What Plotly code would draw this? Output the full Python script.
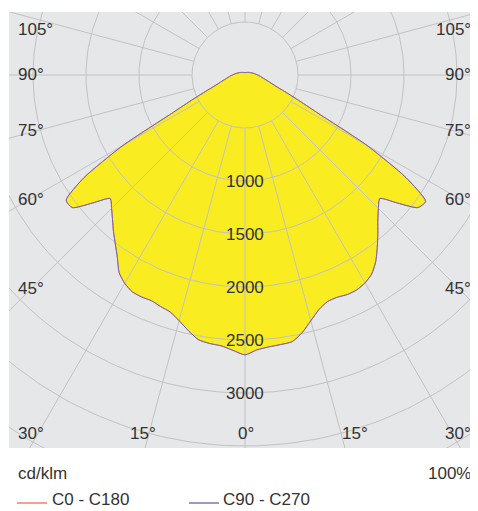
import numpy as np
import plotly.graph_objects as go

# ---------------- data ----------------
gamma = [0, 2.5, 5, 7.5, 10, 12.5, 15, 17.5, 20, 22.5, 25, 27.5, 30, 32.5, 35, 37.5,
         40, 42.5, 45, 47.5, 50, 52.5, 55, 57.5, 60, 62.5, 65, 67.5, 70, 75, 80, 85,
         90, 100, 110, 120, 135, 150, 165, 180]

# C90 - C270 plane (cd/klm): right half = C90, left half = C270
i_c90 = [2640, 2595, 2575, 2565, 2555, 2490, 2400, 2320, 2275, 2270, 2285, 2285, 2265, 2225, 2150, 2050,
         1950, 1855, 1780, 1725, 1880, 2055, 2080, 1800, 1330, 760, 540, 400, 310, 225, 175, 145,
         120, 85, 62, 48, 35, 28, 24, 22]
i_c270 = [2640, 2600, 2565, 2555, 2535, 2470, 2400, 2345, 2325, 2305, 2310, 2305, 2270, 2210, 2100, 2010,
          1930, 1850, 1780, 1725, 1880, 2055, 2060, 1800, 1330, 760, 540, 400, 310, 225, 175, 145,
          120, 85, 62, 48, 35, 28, 24, 22]
# C0 - C180 plane (hidden beneath the C90 - C270 curve)
i_c0 = list(i_c90)
i_c180 = list(i_c270)

ring_values = [500, 1000, 1500, 2000, 2500, 3000, 3500, 4000]
ring_labels = ["1000", "1500", "2000", "2500", "3000"]
spoke_angles = list(range(0, 360, 15))
left_angle_labels = ["105°", "90°", "75°", "60°", "45°", "30°"]
bottom_angle_labels = ["15°", "0°", "15°"]
right_angle_labels = ["105°", "90°", "75°", "60°", "45°", "30°"]
unit_text = "cd/klm"
ratio_text = "100%"
series_names = ["C0 - C180", "C90 - C270"]

# ---------------- helpers ----------------
def polar_curve(g, right, left):
    g = np.radians(np.asarray(g, float))
    right = np.asarray(right, float)
    left = np.asarray(left, float)
    xr = right * np.sin(g)
    yr = -right * np.cos(g)
    xl = -left * np.sin(g)
    yl = -left * np.cos(g)
    x = np.concatenate([xr[::-1], xl[1:]])
    y = np.concatenate([yr[::-1], yl[1:]])
    return x, y

FONT = "Liberation Sans, Arial, sans-serif"
TXT = "#333333"
GRID = "#c2c2c2"
BG = "#e6e7e9"
YELLOW = "#f9ec21"
PURPLE = "#6d66aa"
SALMON = "#f4806a"
LEG_PURPLE = "#7b74bb"

OFF = 8                    # page body margin
W, H = 478 - OFF, 511 - OFF
# reference pixel geometry
REF_L, REF_R, REF_T, REF_B = 9, 473, 12, 448
ML, MT = REF_L - OFF, REF_T - OFF
MR = W - (REF_R - OFF)
MB = H - (REF_B - OFF)
CX, CY = 245, 75          # reference pixel position of the pole
S = 0.106                 # px per cd/klm
x_range = [-(CX - REF_L) / S, (REF_R - CX) / S]
y_range = [-(REF_B - CY) / S, (CY - REF_T) / S]

fig = go.Figure()

# yellow fill
xf, yf = polar_curve(gamma, i_c90, i_c270)
fig.add_trace(go.Scatter(x=xf, y=yf, mode="lines", fill="toself", fillcolor=YELLOW,
                         line=dict(width=0, shape="spline", smoothing=0.6),
                         hoverinfo="skip", showlegend=False))

# grid: rings
t = np.linspace(0, 2 * np.pi, 361)
for r in ring_values:
    fig.add_trace(go.Scatter(x=r * np.cos(t), y=r * np.sin(t), mode="lines",
                             line=dict(color=GRID, width=1), hoverinfo="skip", showlegend=False))
# grid: spokes
for a in spoke_angles:
    th = np.radians(a)
    r0, r1 = ring_values[0], 6000
    fig.add_trace(go.Scatter(x=[r0 * np.sin(th), r1 * np.sin(th)],
                             y=[-r0 * np.cos(th), -r1 * np.cos(th)], mode="lines",
                             line=dict(color=GRID, width=1), hoverinfo="skip", showlegend=False))

# series curves
x0, y0 = polar_curve(gamma, i_c0, i_c180)
fig.add_trace(go.Scatter(x=x0, y=y0, mode="lines", name=series_names[0],
                         line=dict(color=SALMON, width=1, shape="spline", smoothing=0.6)))
x9, y9 = polar_curve(gamma, i_c90, i_c270)
fig.add_trace(go.Scatter(x=x9, y=y9, mode="lines", name=series_names[1],
                         line=dict(color=PURPLE, width=1, shape="spline", smoothing=0.6)))

# ring labels
for lab in ring_labels:
    fig.add_annotation(x=0, y=-float(lab), xref="x", yref="y", text=lab, showarrow=False,
                       font=dict(family=FONT, size=17, color=TXT), xanchor="center", yanchor="middle")

def px(X):
    return (X - REF_L) / (REF_R - REF_L)

def py(Y):
    return (REF_B - Y) / (REF_B - REF_T)

def label(text, X, Y, anchor, yanchor="middle"):
    fig.add_annotation(x=px(X), y=py(Y), xref="paper", yref="paper", text=text, showarrow=False,
                       font=dict(family=FONT, size=17, color=TXT), xanchor=anchor, yanchor=yanchor,
                       borderpad=0)

left_y = [30, 75, 131, 199, 288, 433]
for lab, yy in zip(left_angle_labels, left_y):
    label(lab, 17, yy, "left")
for lab, yy in zip(right_angle_labels, left_y):
    label(lab, 472, yy, "right")
for lab, xx in zip(bottom_angle_labels, [143, 246, 355]):
    label(lab, xx, 433, "center")

label(unit_text, 17, 473, "left")
label(ratio_text, 472, 473, "right")

# legend (drawn manually so it does not push the margins)
for name, col, x_line, x_text in zip(series_names, [SALMON, LEG_PURPLE], [17, 189], [51, 222]):
    fig.add_shape(type="line", xref="paper", yref="paper",
                  x0=px(x_line), x1=px(x_line + 30), y0=py(503), y1=py(503),
                  line=dict(color=col, width=1.5))
    label(name, x_text, 510.5, "left", yanchor="bottom")

fig.update_layout(
    width=W, height=H,
    margin=dict(l=ML, r=MR, t=MT, b=MB, pad=0, autoexpand=False),
    paper_bgcolor="white", plot_bgcolor=BG,
    xaxis=dict(range=x_range, showgrid=False, zeroline=False, showticklabels=False,
               ticks="", showline=False, fixedrange=True),
    yaxis=dict(range=y_range, showgrid=False, zeroline=False, showticklabels=False,
               ticks="", showline=False, fixedrange=True),
    showlegend=False,
    font=dict(family=FONT, size=17, color=TXT),
)

fig.write_html("out.html")
